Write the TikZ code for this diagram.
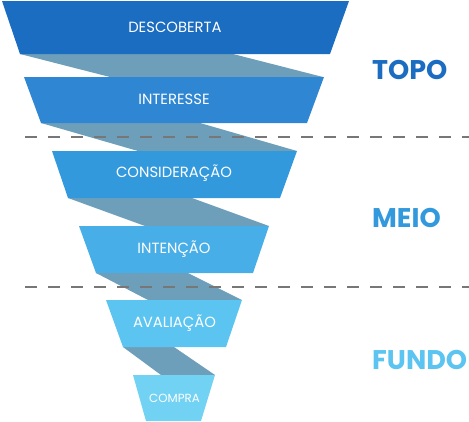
\documentclass[tikz,border=0pt]{standalone}
\usepackage{fontspec}
\setmainfont{Poppins}
\definecolor{cA}{HTML}{1A6DC0}
\definecolor{cB}{HTML}{2F87D4}
\definecolor{cC}{HTML}{3399DD}
\definecolor{cD}{HTML}{47AEE8}
\definecolor{cE}{HTML}{5BC4F1}
\definecolor{cF}{HTML}{72D2F4}
\definecolor{ribbon}{HTML}{6E9FBA}
\definecolor{dashgray}{HTML}{777777}
\begin{document}
\begin{tikzpicture}[x=1pt,y=-1pt,
  ribbonfill/.style={fill=ribbon},
  stagelabel/.style={text=white,font=\fontsize{14.8}{14.8}\selectfont,inner sep=0pt},
  sidelabel/.style={font=\fontsize{27}{27}\selectfont\bfseries,inner sep=0pt,anchor=west},
  divider/.style={draw=dashgray,line width=2pt,dash pattern=on 12pt off 11pt}]
\useasboundingbox (0,0) rectangle (469,421);
% ribbons
\fill[ribbonfill] (20,54) -- (233,54) -- (323,77) -- (110,77) -- cycle;
\fill[ribbonfill] (41,123) -- (200,123) -- (297,151) -- (138,151) -- cycle;
\fill[ribbonfill] (68,198) -- (192,198) -- (269,226) -- (145,226) -- cycle;
\fill[ribbonfill] (96,273) -- (188,273) -- (242,300) -- (148,300) -- cycle;
\fill[ribbonfill] (123,347) -- (174,347) -- (215,375) -- (161,375) -- cycle;
% dividers
\coordinate (d1a) at (25,137); \coordinate (d1b) at (469,137);
\coordinate (d2a) at (25,287); \coordinate (d2b) at (469,287);
\draw[divider] (d1a) -- (d1b);
\draw[divider] (d2a) -- (d2b);
% stages
\fill[cA] (2,1) -- (349,1) -- (330,54) -- (20,54) -- cycle;
\fill[cB] (24,77) -- (324,77) -- (307,123) -- (41,123) -- cycle;
\fill[cC] (52,151) -- (297,151) -- (280,198) -- (68,198) -- cycle;
\fill[cD] (79,226) -- (269,226) -- (253,273) -- (96,273) -- cycle;
\fill[cE] (106,300) -- (242,300) -- (226,347) -- (123,347) -- cycle;
\fill[cF] (133,375) -- (215,375) -- (201,421) -- (146,421) -- cycle;
% labels
\node[stagelabel] (l1) at (175,27) {DESCOBERTA};
\node[stagelabel] (l2) at (174,99) {INTERESSE};
\node[stagelabel] (l3) at (174,173) {CONSIDERAÇÃO};
\node[stagelabel] (l4) at (174,249) {INTENÇÃO};
\node[stagelabel] (l5) at (174.5,323) {AVALIAÇÃO};
\node[stagelabel,font=\fontsize{11.8}{11.8}\selectfont] (l6) at (174.5,398) {COMPRA};
\node[sidelabel,text=cA] (topo) at (372,70) {TOPO};
\node[sidelabel,text=cC] (meio) at (372,218) {MEIO};
\node[sidelabel,text=cE] (fundo) at (372,360) {FUNDO};
\end{tikzpicture}
\end{document}
